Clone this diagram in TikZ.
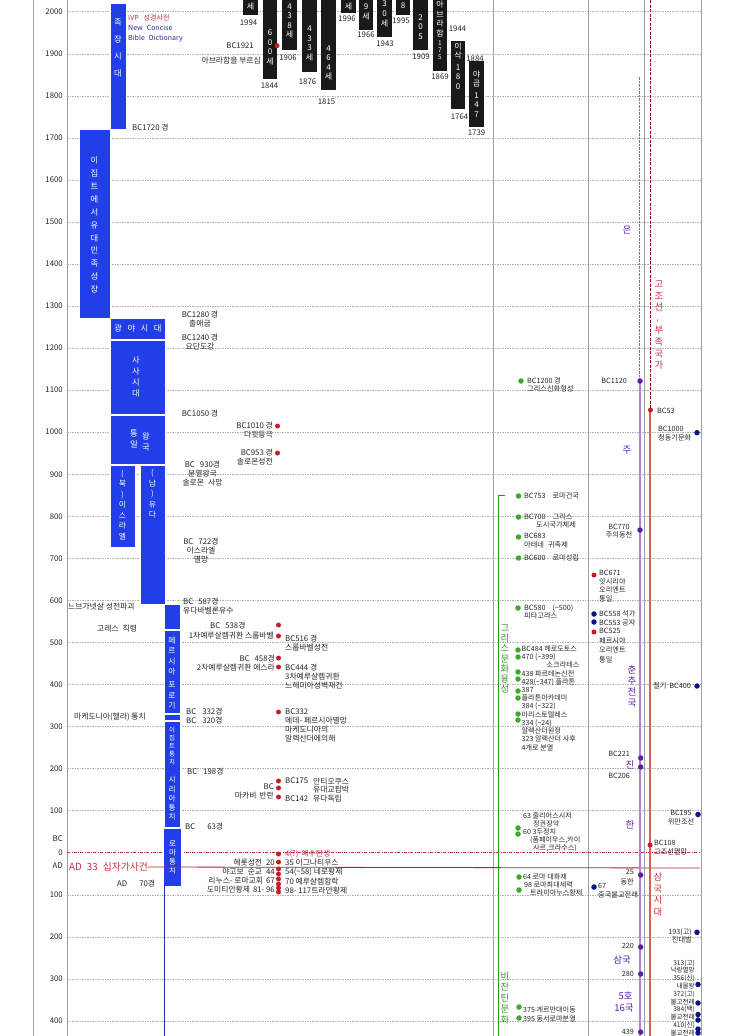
\documentclass[tikz,border=0pt]{standalone}
\usepackage{fontspec}
\setmainfont{Noto Sans CJK KR}
\usepackage{xcolor}
\usepackage{tikz}
\definecolor{periodblue}{RGB}{33,62,232}
\definecolor{dotred}{RGB}{200,30,35}
\definecolor{textred}{RGB}{195,45,60}
\definecolor{navy}{RGB}{10,20,130}
\definecolor{dictblue}{RGB}{40,45,140}
\definecolor{greekgreen}{RGB}{60,170,40}
\definecolor{chinapurple}{RGB}{95,30,165}
\definecolor{linepurple}{RGB}{175,130,215}
\definecolor{linered}{RGB}{225,90,90}
\newcommand{\tld}{\textasciitilde}

\begin{document}
\begin{tikzpicture}[x=1pt, y=-1pt,
    gridline/.style={gray!60, dash pattern=on 1.5pt off 1pt, line width=0.4pt},
    colline/.style={gray!75, line width=0.7pt},
    period/.style={fill=periodblue, draw=white, line width=0.6pt},
    ptxt/.style={text=white, align=center, inner sep=0pt},
    life/.style={fill=black!90},
    ltxt/.style={text=white, align=center, inner sep=0pt, font=\fontsize{8}{9.6}\selectfont},
    lbl/.style={inner sep=0pt, align=left, text=black!85, font=\fontsize{7.8}{9}\selectfont},
    rlbl/.style={inner sep=0pt, align=left, text=black!85, font=\fontsize{7.2}{8.4}\selectfont},
    yrlbl/.style={inner sep=0pt, text=black!85, font=\fontsize{7.8}{9}\selectfont},
    vtxt/.style={inner sep=0pt, align=center, font=\fontsize{9}{11}\selectfont},
    rdot/.style={circle, fill=dotred, minimum size=5pt, inner sep=0pt},
    gdot/.style={circle, fill=greekgreen, minimum size=5.5pt, inner sep=0pt},
    ndot/.style={circle, fill=navy, minimum size=5.5pt, inner sep=0pt},
    vdot/.style={circle, fill=chinapurple, minimum size=5.5pt, inner sep=0pt}
]
\useasboundingbox (0,0) rectangle (740,1036);
\fill[white] (0,0) rectangle (740,1036);

% year grid
\foreach \v in {2000,1900,...,100} {
  \pgfmathsetmacro\yy{852.7-0.4205*\v}
  \draw[gridline] (67,\yy) -- (700,\yy);
  \node[yrlbl, anchor=east] (bc\v) at (63,\yy) {\v};
}
\foreach \v in {100,200,300,400} {
  \pgfmathsetmacro\yy{852.7+0.4205*\v}
  \draw[gridline] (67,\yy) -- (700,\yy);
  \node[yrlbl, anchor=east] (ad\v) at (63,\yy) {\v};
}
\foreach \x in {33,67,493,588,644,701} \draw[colline] (\x,0) -- (\x,1036);
\node[yrlbl, anchor=east] (bclbl) at (63,839) {BC};
\node[yrlbl, anchor=east] (zero) at (63,853) {0};
\node[yrlbl, anchor=east] (adlbl) at (63,866) {AD};
\draw[textred, dash pattern=on 3pt off 1.5pt on 0.6pt off 1.5pt, line width=0.6pt] (67,852.7) -- (700,852.7);

% patriarchs (black bars)
\fill[life] (243,0) rectangle (258,15);
\node[ltxt] (life1) at (250.5,7) {세};
\fill[life] (263,0) rectangle (277,79);
\node[ltxt] (life2) at (270,47.5) {6\\0\\0\\세};
\fill[life] (282,0) rectangle (297,50);
\node[ltxt] (life3) at (289.5,21) {4\\3\\8\\세};
\fill[life] (302,0) rectangle (317,72);
\node[ltxt] (life4) at (309.5,43.5) {4\\3\\3\\세};
\fill[life] (321,0) rectangle (336,90);
\node[ltxt] (life5) at (328.5,63) {4\\6\\4\\세};
\fill[life] (341,0) rectangle (356,13);
\node[ltxt] (life6) at (348.5,6.5) {세};
\fill[life] (359,0) rectangle (373,30);
\node[ltxt] (life7) at (366,12) {9\\세};
\fill[life] (377,0) rectangle (392,37);
\node[ltxt] (life8) at (384.5,14) {3\\0\\세};
\fill[life] (396,0) rectangle (410,15);
\node[ltxt] (life9) at (403,6) {8};
\fill[life] (413,0) rectangle (428,50);
\node[ltxt] (life10) at (420.5,27) {2\\0\\5};
\fill[life] (433,0) rectangle (447,71);
\node[ltxt] (abraham) at (440,19) {아\\브\\라\\함};
\node[ltxt, font=\fontsize{6.5}{7.2}\selectfont] (abraham175) at (440,50) {1\\7\\5};
\fill[life] (451,41) rectangle (465,109);
\node[ltxt] (isaac) at (458,51) {이\\삭};
\node[ltxt] (isaac180) at (458,77) {1\\8\\0};
\fill[life] (469,61) rectangle (484,127);
\node[ltxt] (jacob) at (476.5,79) {야\\곱};
\node[ltxt] (jacob147) at (476.5,105) {1\\4\\7};

\node[lbl] (y1994) at (248.5,23) {1994};
\node[lbl] (y1844) at (269.5,86) {1844};
\node[lbl] (y1906) at (288,57.5) {1906};
\node[lbl] (y1876) at (307.5,82) {1876};
\node[lbl] (y1815) at (326.5,102) {1815};
\node[lbl] (y1996) at (347,19) {1996};
\node[lbl] (y1966) at (366,34.5) {1966};
\node[lbl] (y1943) at (385,43.5) {1943};
\node[lbl] (y1995) at (401,21) {1995};
\node[lbl] (y1909) at (421,57) {1909};
\node[lbl] (y1869) at (440,77) {1869};
\node[lbl] (y1944) at (457.5,28.5) {1944};
\node[lbl] (y1884) at (475,59) {1884};
\node[lbl] (y1764) at (459.5,117) {1764};
\node[lbl] (y1739) at (476.5,133) {1739};
\node[rdot] (d1921) at (277,45.7) {};
\node[lbl, anchor=east] (t1921) at (254,46) {BC1921};
\node[lbl, anchor=east] (call) at (261,60.5) {아브라함을 부르심};

% source
\node[lbl, anchor=west, text=textred, font=\fontsize{7}{8}\selectfont] (ivp) at (128,18.3) {IVP\hspace{5pt}성경사전};
\node[lbl, anchor=north west, text=dictblue, font=\fontsize{7}{10.6}\selectfont] (ncbd) at (128,24.5) {New\hspace{4pt}Concise\\Bible\hspace{4pt}Dictionary};

% periods of Israel (blue bars)
\draw[period] (110,3) rectangle (126,129);
\node[ptxt, font=\fontsize{8.3}{17}\selectfont] (jokjang) at (118,48.5) {족\\장\\시\\대};
\node[lbl, anchor=west] (t1720) at (132,128) {BC1720 경};
\draw[period] (79,129) rectangle (110,318);
\node[ptxt, font=\fontsize{8.3}{12.9}\selectfont] (egypt) at (94.5,225) {이\\집\\트\\에\\서\\유\\대\\민\\족\\성\\장};
\draw[period] (110,318) rectangle (165,339.5);
\node[ptxt, font=\fontsize{8.3}{9}\selectfont] (wild) at (138,328.5) {광\hspace{5.5pt}야\hspace{5.5pt}시\hspace{5.5pt}대};
\draw[period] (110,340.5) rectangle (165,414);
\node[ptxt, font=\fontsize{8.3}{11}\selectfont] (judges) at (136,377) {사\\사\\시\\대};
\draw[period] (110,415) rectangle (165,464);
\node[ptxt, font=\fontsize{8.3}{11}\selectfont] (unitedA) at (134,438.5) {통\\일};
\node[ptxt, font=\fontsize{8.3}{11}\selectfont] (unitedB) at (146,441.5) {왕\\국};
\draw[period] (110,465) rectangle (135,547);
\node[ptxt, font=\fontsize{7.8}{10.5}\selectfont] (north) at (122.5,505) {(\\북\\)\\이\\스\\라\\엘};
\draw[period] (140,465) rectangle (165,604);
\node[ptxt, font=\fontsize{7.8}{10.5}\selectfont] (south) at (152.5,494) {(\\남\\)\\유\\다};
\draw[period] (164,604) rectangle (180,629.5);
\draw[period] (164,630) rectangle (180,713);
\node[ptxt, font=\fontsize{7.8}{10.3}\selectfont] (persia) at (172,673) {페\\르\\시\\아\\[3pt]포\\로\\기};
\draw[period] (164,714) rectangle (180,720.5);
\draw[period] (164,721.5) rectangle (180,827);
\node[ptxt, font=\fontsize{6.5}{7.9}\selectfont] (ptolemy) at (172,746) {이\\집\\트\\통\\치};
\node[ptxt, font=\fontsize{7.6}{9.3}\selectfont] (syria) at (172,798.5) {시\\리\\아\\통\\치};
\draw[period] (163.5,828) rectangle (181.5,886);
\node[ptxt, font=\fontsize{7.6}{9}\selectfont] (rome) at (172.5,857.5) {로\\마\\통\\치};
\draw[periodblue!80!black, line width=1pt] (164.5,886) -- (164.5,1036);

% events of Israel
\node[lbl, align=center, anchor=north] (exodus) at (200,310.7) {BC1280 경\\출애굽};
\node[lbl, align=center, anchor=north] (jordan) at (200,334.2) {BC1240 경\\요단도강};
\node[lbl] (t1050) at (200,413.5) {BC1050 경};
\node[rdot] (d1010) at (277.5,426) {};
\node[lbl, align=right, anchor=north east] (david) at (273,422.2) {BC1010 경\\다윗등극};
\node[rdot] (d953) at (277.5,453) {};
\node[lbl, align=right, anchor=north east] (temple1) at (273,448.7) {BC953 경\\솔로몬성전};
\node[lbl, align=center, anchor=north] (split) at (202.5,460.7) {BC\hspace{5pt}930경\\분열왕국\\솔로몬\hspace{4pt}사망};
\node[lbl, align=center, anchor=north] (israelfall) at (201,538.2) {BC\hspace{5pt}722경\\이스라엘\\멸망};
\node[lbl, anchor=north west] (exile) at (183,598.2) {BC\hspace{5pt}587경\\유다바벨론유수};
\node[lbl, anchor=west] (nebu) at (68,606.5) {느브가넷살 성전파괴};
\node[lbl, anchor=west] (cyrus) at (97,629) {고레스\hspace{4pt}칙령};
\node[lbl, anchor=west] (t538) at (210,626) {BC\hspace{5pt}538경};
\node[lbl, anchor=east] (return1) at (274,635.7) {1차예루살렘귀환 스룹바벨};
\node[rdot] (d538) at (278.5,625) {};
\node[rdot] (d536) at (278.5,636) {};
\node[lbl, anchor=north west] (temple2) at (285,634.4) {BC516 경\\스룹바벨성전};
\node[lbl, anchor=east] (t458) at (275,658.3) {BC\hspace{5pt}458경};
\node[lbl, anchor=east] (return2) at (275,667.3) {2차예루살렘귀환 에스라};
\node[rdot] (d458) at (278.5,658) {};
\node[rdot] (d444) at (278.5,667) {};
\node[lbl, anchor=north west] (return3) at (285,664.2) {BC444 경\\3차예루살렘귀환\\느헤미아성벽재건};
\node[lbl, anchor=north west] (t332) at (186,708.2) {BC\hspace{6pt}332경\\BC\hspace{6pt}320경};
\node[lbl, anchor=west] (hellas) at (74,717) {마케도니아(헬라) 통치};
\node[rdot] (d332) at (278.5,712) {};
\node[lbl, anchor=north west] (alex) at (285,708.2) {BC332\\메데- 페르시아멸망\\마케도니아의\\알렉산더에의해};
\node[lbl, anchor=west] (t198) at (187,772) {BC\hspace{6pt}198경};
\node[rdot] (d175) at (278.5,781) {};
\node[rdot] (d167) at (278.5,788) {};
\node[rdot] (d142) at (278.5,797) {};
\node[lbl, anchor=east] (tbc) at (274,786.5) {BC};
\node[lbl, anchor=east] (macc) at (274,796) {마카비\hspace{3pt}반란};
\node[lbl, anchor=west] (t175) at (285,781) {BC175};
\node[lbl, anchor=north west, font=\fontsize{7.8}{8.6}\selectfont] (antio) at (313,777.4) {안티오쿠스\\유대교핍박\\유다독립};
\node[lbl, anchor=west] (t142) at (285,798.5) {BC142};
\node[lbl, anchor=west] (t63) at (185,827) {BC\hspace{12pt}63경};

% AD
\node[lbl, anchor=west, text=textred, font=\fontsize{9.8}{11}\selectfont] (ad33) at (69,867) {AD\hspace{5pt}33\hspace{5pt}십자가사건};
\draw[textred!85!black, line width=0.8pt] (ad33.east) -- (700,868);
\node[lbl, anchor=west] (ad70) at (117,884) {AD\hspace{12pt}70경};
\foreach \d in {854,862,869,874,879,884,888,892}
  \node[rdot] (da\d) at (278.5,\d) {};
\node[lbl, anchor=west, text=textred] (jesus) at (285,853.7) {4(?)\hspace{3pt}예수탄생};
\node[lbl, anchor=north west, font=\fontsize{7.8}{9.4}\selectfont] (church) at (285,858.9) {35 이그나티우스\\54(\tld58) 네로황제\\70 예루살렘함락\\98- 117트라얀황제};
\node[lbl, align=right, anchor=north east, font=\fontsize{7.8}{9.1}\selectfont] (church2) at (275,858.4) {헤롯성전\hspace{4pt}20\\야고보\hspace{4pt}순교\hspace{4pt}44\\리누스- 로마교회\hspace{3pt}67\\도미티안황제\hspace{3pt}81- 96};

% Greece and Rome
\draw[greekgreen!85!black, line width=0.7pt] (505,495) -- (498,495) -- (498,1036);
\node[vtxt, text=greekgreen!90!black, font=\fontsize{9.3}{10.3}\selectfont] (greek) at (505,659) {그\\리\\스\\문\\화\\융\\성};
\node[vtxt, text=greekgreen!90!black, font=\fontsize{9.3}{11}\selectfont] (byz) at (505,998.5) {비\\잔\\틴\\문\\화};
\node[gdot] (g1200) at (521,381) {};
\node[rlbl, anchor=north west] (myth) at (527,377.3) {BC1200 경\\그리스신화형성};
\node[gdot] (g753) at (518.5,496) {};
\node[rlbl, anchor=west] (t753) at (524,496) {BC753\hspace{7pt}로마건국};
\node[gdot] (g700) at (518.5,517) {};
\node[rlbl, anchor=north west] (polis) at (524,513.3) {BC700\hspace{7pt}그리스\\\hspace{12pt}도시국가체제};
\node[gdot] (g683) at (518.5,537) {};
\node[rlbl, anchor=north west] (athens) at (524,533.3) {BC683\\아테네\hspace{4pt}귀족제};
\node[gdot] (g600) at (518.5,558) {};
\node[rlbl, anchor=west] (t600) at (524,558) {BC600\hspace{7pt}로마성립};
\node[gdot] (g580) at (518,608) {};
\node[rlbl, anchor=north west] (pyth) at (524,604.3) {BC580\hspace{7pt}(\tld500)\\피타고라스};
\foreach \d in {650,657,672,679,691,698,714,720}
  \node[gdot] (gg\d) at (518,\d) {};
\node[rlbl, anchor=north west, font=\fontsize{7.1}{8.22}\selectfont] (philo) at (521.5,645.3) {BC484 헤로도토스\\470 (\tld399)\\\hspace{25pt}소크라테스\\438 파르테논신전\\428(\tld347) 플라톤\\387\\플라톤아카데미\\384 (\tld322)\\아리스토텔레스\\334 (\tld24)\\알렉산더원정\\323 알렉산더 사후\\4개로 분열};
\node[gdot] (g60a) at (518,828) {};
\node[gdot] (g60b) at (518,834) {};
\node[rlbl, anchor=north west, font=\fontsize{7.1}{8.1}\selectfont] (caesar) at (523,812.3) {63 줄리어스시저\\\hspace{10pt}정권장악\\60 3두정치\\\hspace{7pt}(폼페이우스,카이\\\hspace{10pt}사르,크라수스)};
\node[gdot] (g64) at (519,877) {};
\node[gdot] (g98) at (519,890) {};
\node[rlbl, anchor=north west, font=\fontsize{7.1}{8.1}\selectfont] (trajan) at (523,873.3) {64 로마 대화재\\\hspace{1pt}98 로마최대세력\\\hspace{7pt}트라이아누스황제};
\node[gdot] (g375) at (519,1007) {};
\node[gdot] (g395) at (519,1018) {};
\node[rlbl, anchor=north west, font=\fontsize{7.1}{9}\selectfont] (german) at (523,1006.3) {375 게르만대이동\\395 동서로마분열};

% Orient and India
\node[rdot] (o671) at (594,575) {};
\node[rlbl, anchor=north west] (assyria) at (599,570.3) {BC671\\앗시리아\\오리엔트\\통일};
\node[ndot] (o558) at (594,614) {};
\node[rlbl, anchor=west] (buddha) at (599,614) {BC558 석가};
\node[ndot] (o553) at (594,622) {};
\node[rlbl, anchor=west] (confucius) at (599,622.5) {BC553 공자};
\node[rdot] (o525) at (594,632) {};
\node[rlbl, anchor=north west, font=\fontsize{7.2}{9.4}\selectfont] (persia2) at (599,628.3) {BC525\\페르시아\\오리엔트\\통일};
\node[ndot] (o67) at (594,887) {};
\node[rlbl, anchor=north west] (buddhism) at (598,883.3) {67\\중국불교전래};

% China
\draw[chinapurple!70, dash pattern=on 2.5pt off 1pt, line width=1.2pt] (639.5,77) -- (639.5,381);
\draw[linepurple, line width=2.2pt] (640,381) -- (640,1036);
\node[vtxt, text=chinapurple, font=\fontsize{9.5}{11}\selectfont] (shang) at (627,230) {은};
\node[vdot] (c1120) at (640,381) {};
\node[rlbl, anchor=east] (t1120) at (627,381) {BC1120};
\node[vtxt, text=chinapurple, font=\fontsize{9.5}{11}\selectfont] (zhou) at (627,450) {주};
\node[vdot] (c770) at (640,530) {};
\node[rlbl, align=center, anchor=north] (t770) at (619,523.8) {BC770\\주의동천};
\node[vtxt, text=chinapurple, font=\fontsize{9.5}{11}\selectfont] (warring) at (632,686.5) {춘\\추\\전\\국};
\node[vdot] (c221) at (640.7,758) {};
\node[rlbl, anchor=east] (t221) at (630,754) {BC221};
\node[vtxt, text=chinapurple, font=\fontsize{9.5}{11}\selectfont] (qin) at (630,764.5) {진};
\node[vdot] (c206) at (640.7,767) {};
\node[rlbl, anchor=east] (t206) at (630,776) {BC206};
\node[vtxt, text=chinapurple, font=\fontsize{9.5}{11}\selectfont] (han) at (630,825) {한};
\node[vdot] (c25) at (640.7,875) {};
\node[rlbl, align=right, anchor=north east, font=\fontsize{7.2}{10}\selectfont] (t25) at (634,869.3) {25\\동한};
\node[vdot] (c220) at (640.7,947) {};
\node[rlbl, anchor=east] (t220) at (634,946) {220};
\node[vtxt, text=chinapurple, font=\fontsize{9.5}{11}\selectfont] (three) at (622,960) {삼국};
\node[vdot] (c280) at (640.7,974) {};
\node[rlbl, anchor=east] (t280) at (634,974) {280};
\node[vtxt, text=chinapurple, font=\fontsize{9.5}{12}\selectfont] (sixteen) at (624,1002.5) {\hspace{3pt}5호\\16국};
\node[vdot] (c439) at (640.7,1032) {};
\node[rlbl, anchor=east] (t439) at (634,1032) {439};

% Korea
\draw[red!60!black, dash pattern=on 3pt off 1.5pt, line width=0.8pt] (650,0) -- (650,410);
\draw[linered, line width=2pt] (650,410) -- (650,1036);
\node[vtxt, text=textred, font=\fontsize{9.3}{11.6}\selectfont] (gojoseon) at (659,325) {고\\조\\선\\\rotatebox{90}{-}\\부\\족\\국\\가};
\node[rdot] (k53) at (650.5,410) {};
\node[rlbl, anchor=west] (t53) at (657,410.5) {BC53};
\node[ndot] (k1000) at (697,432.7) {};
\node[rlbl, anchor=north west] (bronze) at (658,426.3) {BC1000\\청동기문화};
\node[ndot] (k400) at (697,686) {};
\node[rlbl, anchor=east] (iron) at (691,686) {철기\hspace{3pt}BC400};
\node[ndot] (k195) at (698,814.5) {};
\node[rlbl, align=center, anchor=north] (wiman) at (681,810.3) {BC195\\위만조선};
\node[rdot] (k108) at (650,845) {};
\node[rlbl, anchor=north west] (fall) at (654,840.3) {BC108\\고조선멸망};
\node[vtxt, text=textred, font=\fontsize{9.3}{11.8}\selectfont] (threek) at (658,894.5) {삼\\국\\시\\대};
\node[ndot] (k193) at (697,932.3) {};
\node[rlbl, align=right, anchor=north east] (k193t) at (692,928.3) {193(고)\\진대벌};
\foreach \d in {984.5,1003,1014.5,1020,1029,1033}
  \node[ndot] (kk\d) at (698,\d) {};
\node[rlbl, align=right, anchor=north east, font=\fontsize{6.6}{7.8}\selectfont] (korea4) at (695,959.5) {313(고)\\낙랑멸망\\356(신)\\내물왕\\372(고)\\불고전래\\384(백)\\불교전래\\410(신)\\불교전래};

\end{tikzpicture}
\end{document}
